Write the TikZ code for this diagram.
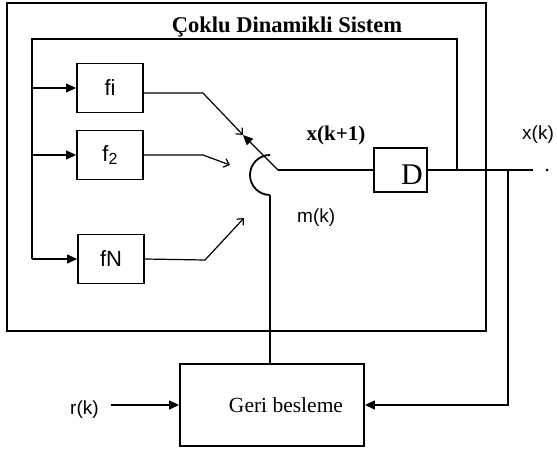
\documentclass[tikz,border=0pt]{standalone}
\usepackage{fontspec}
\setmainfont{Liberation Serif}
\setsansfont{Liberation Sans}
\usetikzlibrary{arrows.meta}
\begin{document}
\begin{tikzpicture}[x=1pt,y=-1pt,
  blk/.style={draw, line width=1.8pt, rectangle, inner sep=0pt},
  fblk/.style={blk, minimum width=66pt, minimum height=49pt, font=\sffamily\fontsize{22}{22}\selectfont},
  wire/.style={line width=1.2pt},
  farrow/.style={wire, -{Triangle[length=10pt,width=9pt]}},
  oarrow/.style={wire, -{Straight Barb[length=5pt,width=9pt]}},
  lbl/.style={font=\sffamily\fontsize{19}{19}\selectfont, inner sep=0pt},
]
\useasboundingbox (0,0) rectangle (557,449);
% outer system box
\node[draw, line width=2.4pt, minimum width=479pt, minimum height=328pt, inner sep=0pt] (sys) at (246.5,167) {};
\node[font=\bfseries\fontsize{22.5}{22.5}\selectfont, anchor=base, inner sep=0pt] (title) at (287,33) {Çoklu Dinamikli Sistem};
% function blocks
\node[fblk] (fi) at (110,88) {fi};
\node[fblk] (f2) at (110,155) {f{\fontsize{16}{16}\selectfont\raisebox{-3pt}{2}}};
\node[fblk] (fN) at (111,259) {fN};
% delay
\node[blk, minimum width=53pt, minimum height=44pt] (D) at (400.5,170) {};
\node[font=\fontsize{30}{30}\selectfont, anchor=base, inner sep=0pt] (Dl) at (412,185) {D};
% feedback block
\node[blk, minimum width=184pt, minimum height=82pt] (G) at (272,405) {};
\node[font=\fontsize{21.5}{21.5}\selectfont, anchor=base, inner sep=0pt] (Gl) at (286,412) {Geri besleme};
% labels
\node[font=\bfseries\fontsize{21}{21}\selectfont, anchor=base, inner sep=0pt] (xk1) at (336,141) {x(k+1)};
\node[lbl, anchor=base west] (mk) at (297,223) {m(k)};
\node[lbl, anchor=base west] (xk) at (522,140) {x(k)};
\node[lbl, anchor=base west] (rk) at (70,414) {r(k)};
% coordinates
\coordinate (pv) at (278,170);
\coordinate (c1) at (243,135);
\coordinate (c2) at (230,165);
\coordinate (c3) at (244,218);
\coordinate (b1) at (203,93);
\coordinate (b2) at (203,155);
\coordinate (b3) at (205,260);
\coordinate (j1) at (457,170);
\coordinate (j2) at (508,170);
\coordinate (out) at (533,170);
\coordinate (tr) at (457,39);
\coordinate (tl) at (32,39);
\coordinate (bl) at (32,259);
\coordinate (arcT) at (270,155);
\coordinate (arcB) at (270,195);
% inner loop
\draw[wire] (D.east) -- (out);
\draw[wire] (j1) -- (tr) -- (tl) -- (bl);
\draw[farrow] (fi.west -| tl) -- (fi.west);
\draw[farrow] (f2.west -| tl) -- (f2.west);
\draw[farrow] (bl) -- (fN.west);
% outputs to switch
\draw[oarrow] ([yshift=-5pt]fi.east) -- (b1) -- (c1);
\draw[oarrow] (f2.east) -- (b2) -- (c2);
\draw[oarrow] (fN.east) -- (b3) -- (c3);
% switch
\draw[farrow] (pv) -- (c1);
\draw[wire] (pv) -- (D.west);
\draw[line width=1.8pt] (arcT) arc[start angle=-90, end angle=-270, radius=20];
\draw[wire] (arcB) -- (G.north -| arcB);
% output terminal
\fill (547,170) circle[radius=1.5pt];
% feedback
\draw[farrow] (j2) |- (G.east);
\draw[farrow, shorten <=12pt] (rk.east |- G.west) -- (G.west);
\end{tikzpicture}
\end{document}
